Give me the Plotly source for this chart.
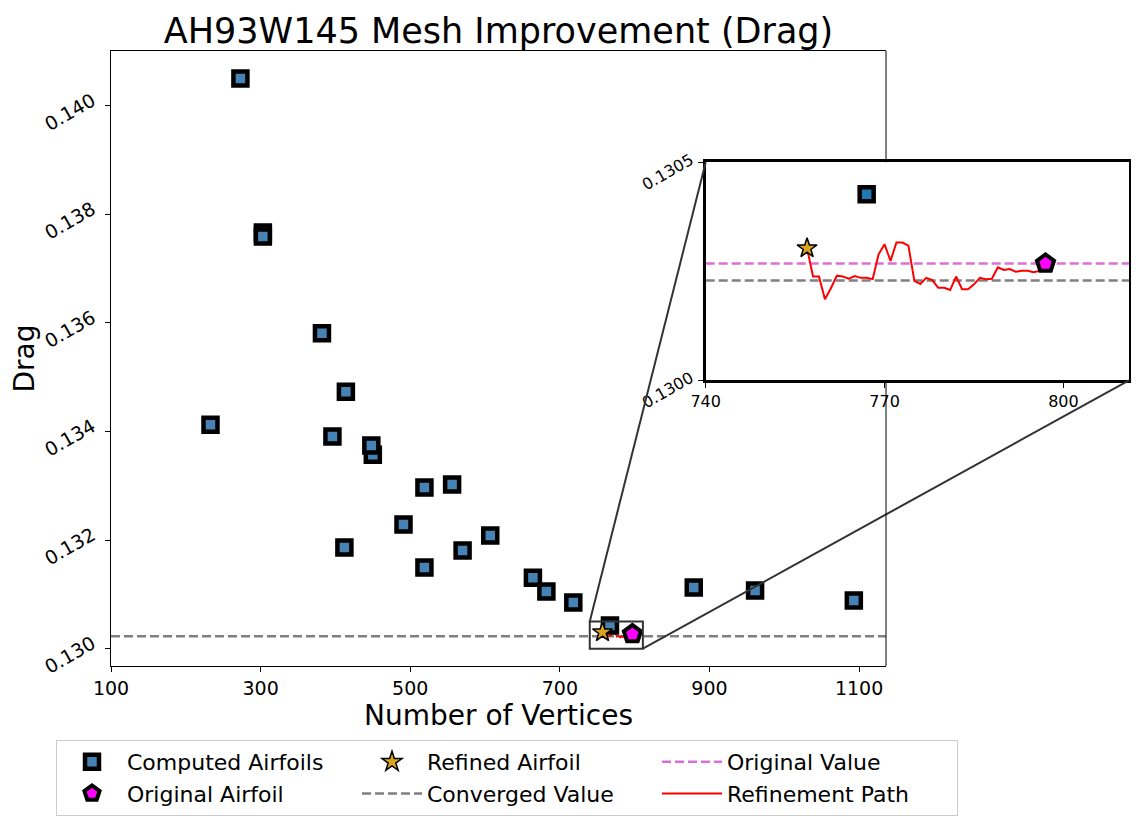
import plotly.graph_objects as go

# page body adds an 8px margin, so the figure is drawn 8px in from the corner
OFF = 8
W, H = 1139 - 2 * OFF, 825 - 2 * OFF
FONT = "DejaVu Sans"

# ---------------- data ----------------
computed_x = [273, 303, 303, 382, 414, 233, 396, 450, 448, 519, 556, 491,
              412, 570, 519, 607, 664, 682, 718, 767, 879, 961, 1093]
computed_y = [0.140503, 0.137665, 0.137591, 0.135808, 0.134734, 0.134125,
              0.133910, 0.133572, 0.133744, 0.132970, 0.133025, 0.132288,
              0.131864, 0.131808, 0.131495, 0.132085, 0.131305, 0.131053,
              0.130850, 0.130427, 0.131126, 0.131071, 0.130887]

refined_x = [757]
refined_y = [0.130303]
original_x = [797]
original_y = [0.130268]

converged_value = 0.130229
original_value = 0.130268

path_x = [757, 758, 759, 760, 761, 762, 763, 764, 765, 766, 767, 768, 769,
          770, 771, 772, 773, 774, 775, 776, 777, 778, 779, 780, 781, 782,
          783, 784, 785, 786, 787, 788, 789, 790, 791, 792, 793, 794, 795,
          796, 797]
path_y = [0.130303, 0.130238, 0.130238, 0.130186, 0.130211, 0.130240,
          0.130238, 0.130233, 0.130239, 0.130235, 0.130235, 0.130232,
          0.130289, 0.130312, 0.130274, 0.130316, 0.130316, 0.130309,
          0.130228, 0.130221, 0.130235, 0.130230, 0.130212, 0.130212,
          0.130207, 0.130238, 0.130209, 0.130209, 0.130220, 0.130235,
          0.130232, 0.130233, 0.130259, 0.130253, 0.130255, 0.130249,
          0.130251, 0.130251, 0.130248, 0.130251, 0.130268]

main_xticks = [100, 300, 500, 700, 900, 1100]
main_yticks = [0.130, 0.132, 0.134, 0.136, 0.138, 0.140]
inset_xticks = [740, 770, 800]
inset_yticks = [0.1300, 0.1305]

main_xrange = [100, 1136]
main_yrange = [0.12968, 0.14101]
inset_xrange = [740, 811]
inset_yrange = [0.1300, 0.1305]


# ---------------- layout geometry (page pixels -> paper) ----------------
def px_x(v):
    return (v - OFF) / W


def px_y(v):
    return 1 - (v - OFF) / H


main_dom_x = [px_x(111), px_x(886)]
main_dom_y = [px_y(666), px_y(51)]
inset_dom_x = [px_x(705.7), px_x(1129)]
inset_dom_y = [px_y(380.3), px_y(162.3)]


def main_to_paper(x, y):
    px = main_dom_x[0] + (x - main_xrange[0]) / (main_xrange[1] - main_xrange[0]) * (main_dom_x[1] - main_dom_x[0])
    py = main_dom_y[0] + (y - main_yrange[0]) / (main_yrange[1] - main_yrange[0]) * (main_dom_y[1] - main_dom_y[0])
    return px, py


SQ_MAIN = "#4682b4"
SQ_INSET = "#1f77b4"
STAR_C = "#daa520"
MAG = "#ff00ff"
ORCHID = "#da70d6"
GRAY = "#808080"
EDGE = "#333333"
DASH = "9px,4px"

fig = go.Figure()

sq_marker_main = dict(symbol="square", size=14, color=SQ_MAIN, line=dict(color="black", width=4.5))
sq_marker_inset = dict(symbol="square", size=14, color=SQ_INSET, line=dict(color="black", width=4.5))
pent_marker = dict(symbol="pentagon", size=18, color=MAG, line=dict(color="black", width=4))
star_marker = dict(symbol="star", size=15, color=STAR_C, line=dict(color="black", width=1.5))

# ---- main axes traces ----
fig.add_trace(go.Scatter(x=main_xrange, y=[converged_value, converged_value], mode="lines",
                         name="Converged Value", line=dict(color=GRAY, width=2.5, dash=DASH),
                         legendrank=5, xaxis="x", yaxis="y", hoverinfo="skip"))
fig.add_trace(go.Scatter(x=path_x, y=path_y, mode="lines", showlegend=False,
                         line=dict(color="red", width=1.5), xaxis="x", yaxis="y"))
fig.add_trace(go.Scatter(x=computed_x, y=computed_y, mode="markers", name="Computed Airfoils",
                         marker=sq_marker_main, legendrank=1, xaxis="x", yaxis="y"))
fig.add_trace(go.Scatter(x=refined_x, y=refined_y, mode="markers", name="Refined Airfoil",
                         marker=star_marker, legendrank=2, xaxis="x", yaxis="y"))
fig.add_trace(go.Scatter(x=original_x, y=original_y, mode="markers", name="Original Airfoil",
                         marker=pent_marker, legendrank=4, xaxis="x", yaxis="y"))

# ---- inset traces ----
fig.add_trace(go.Scatter(x=inset_xrange, y=[original_value, original_value], mode="lines",
                         name="Original Value", line=dict(color=ORCHID, width=2.5, dash=DASH),
                         legendrank=3, xaxis="x2", yaxis="y2", hoverinfo="skip"))
fig.add_trace(go.Scatter(x=inset_xrange, y=[converged_value, converged_value], mode="lines",
                         showlegend=False, line=dict(color=GRAY, width=2.5, dash=DASH),
                         xaxis="x2", yaxis="y2", hoverinfo="skip"))
fig.add_trace(go.Scatter(x=path_x, y=path_y, mode="lines", name="Refinement Path",
                         line=dict(color="red", width=2), legendrank=6,
                         xaxis="x2", yaxis="y2"))
fig.add_trace(go.Scatter(x=computed_x, y=computed_y, mode="markers", showlegend=False,
                         marker=sq_marker_inset, xaxis="x2", yaxis="y2"))
fig.add_trace(go.Scatter(x=refined_x, y=refined_y, mode="markers", showlegend=False,
                         marker=star_marker, xaxis="x2", yaxis="y2"))
fig.add_trace(go.Scatter(x=original_x, y=original_y, mode="markers", showlegend=False,
                         marker=pent_marker, xaxis="x2", yaxis="y2"))

shapes = []
# zoom rectangle
shapes.append(dict(type="rect", xref="x", yref="y",
                   x0=inset_xrange[0], x1=inset_xrange[1],
                   y0=inset_yrange[0], y1=inset_yrange[1],
                   line=dict(color=EDGE, width=2), layer="above"))
# connectors
p1 = main_to_paper(inset_xrange[0], inset_yrange[1])
p2 = main_to_paper(inset_xrange[1], inset_yrange[0])
shapes.append(dict(type="line", xref="paper", yref="paper",
                   x0=p1[0], y0=p1[1], x1=inset_dom_x[0], y1=inset_dom_y[1],
                   line=dict(color=EDGE, width=2), layer="above"))
shapes.append(dict(type="line", xref="paper", yref="paper",
                   x0=p2[0], y0=p2[1], x1=inset_dom_x[1], y1=inset_dom_y[0],
                   line=dict(color=EDGE, width=2), layer="above"))
# right spine of main axes, interrupted by the inset
shapes.append(dict(type="line", xref="paper", yref="paper",
                   x0=main_dom_x[1], x1=main_dom_x[1], y0=main_dom_y[1], y1=inset_dom_y[1],
                   line=dict(color="black", width=1), layer="above"))
shapes.append(dict(type="line", xref="paper", yref="paper",
                   x0=main_dom_x[1], x1=main_dom_x[1], y0=inset_dom_y[0], y1=main_dom_y[0],
                   line=dict(color="black", width=1), layer="above"))

axis_common = dict(showgrid=False, zeroline=False, showline=True, linecolor="black",
                   ticks="outside", ticklen=5, tickwidth=1, tickcolor="black")

fig.update_layout(
    width=W, height=H,
    margin=dict(l=0, r=0, t=0, b=0, autoexpand=False),
    paper_bgcolor="white", plot_bgcolor="white",
    font=dict(family=FONT, color="black"),
    title=dict(text="AH93W145 Mesh Improvement (Drag)", font=dict(size=35, family=FONT),
               x=(498.5 - OFF) / W, xref="paper", xanchor="center",
               y=1 - (31 - OFF) / H, yref="container", yanchor="middle"),
    xaxis=dict(**axis_common, domain=main_dom_x, range=main_xrange, anchor="y",
               tickvals=main_xticks, tickfont=dict(size=19), mirror=True, linewidth=1,
               title=dict(text="Number of Vertices", font=dict(size=28), standoff=6)),
    yaxis=dict(**axis_common, domain=main_dom_y, range=main_yrange, anchor="x",
               tickvals=main_yticks, tickformat=".3f", tickfont=dict(size=19),
               tickangle=-30, linewidth=1, ticklabelstandoff=9, ticklabelshift=-7,
               title=dict(text="Drag", font=dict(size=28), standoff=4)),
    xaxis2=dict(**axis_common, domain=inset_dom_x, range=inset_xrange, anchor="y2",
                tickvals=inset_xticks, tickfont=dict(size=16), mirror=True, linewidth=2.5),
    yaxis2=dict(**axis_common, domain=inset_dom_y, range=inset_yrange, anchor="x2",
                tickvals=inset_yticks, tickformat=".4f", tickfont=dict(size=16),
                tickangle=-30, mirror=True, linewidth=2.5, ticklabelstandoff=4,
                ticklabelshift=-4),
    shapes=shapes,
    showlegend=True,
    legend=dict(orientation="h", x=(507 - OFF) / W, xanchor="center",
                y=1 - (740 - OFF) / H, yanchor="top",
                bordercolor="#cccccc", borderwidth=1, bgcolor="white",
                font=dict(size=22, family=FONT), itemwidth=60,
                entrywidth=225, entrywidthmode="pixels", traceorder="normal"),
)

fig.write_html("out.html")
